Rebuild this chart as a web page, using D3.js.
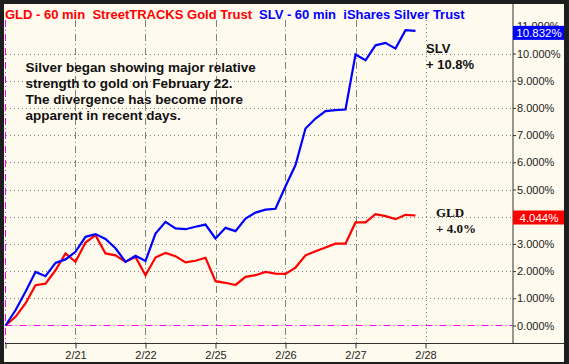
<!DOCTYPE html>
<html><head><meta charset="utf-8">
<script src="https://cdn.jsdelivr.net/npm/d3@7"></script>
<style>body{margin:0;background:#1e1e1e}svg{display:block}</style>
</head><body>
<svg id="c" width="569" height="364"></svg>
<script>
// ---- data ----
const dayLabels = ["2/21","2/22","2/25","2/26","2/27","2/28"];
const gld = [0,0.32,0.81,1.48,1.54,2.03,2.65,
             2.34,3.05,3.32,2.65,2.58,2.34,2.52,
             1.85,2.50,2.67,2.55,2.32,2.38,2.49,
             1.63,1.57,1.49,1.79,1.85,1.97,1.91,
             1.90,2.13,2.58,2.73,2.87,3.01,3.01,
             3.79,3.79,4.09,4.02,3.91,4.07,4.044];
const slv = [0,0.56,1.24,1.97,1.81,2.30,2.43,
             2.71,3.26,3.36,3.18,2.84,2.34,2.56,
             2.37,3.38,3.81,3.57,3.54,3.63,3.71,
             3.20,3.59,3.47,3.93,4.15,4.26,4.29,
             5.12,5.90,7.24,7.61,7.88,7.92,7.94,
             9.96,9.75,10.30,10.39,10.18,10.86,10.832];
const yTicks = [0,1,2,3,4,5,6,7,8,9,10,11];
const barsPerDay = 7;

const svg = d3.select("#c");
const cream = "#fffaee";
svg.append("rect").attr("width",569).attr("height",364).attr("fill","#1e1e1e");
svg.append("rect").attr("x",4).attr("y",4).attr("width",560).attr("height",358).attr("fill",cream);

const x = d3.scaleLinear().domain([0, 42]).range([5.5, 425.5]);
const y = d3.scaleLinear().domain([0, 10]).range([325.5, 53.5]);
const plotRight = 512.5, plotBottom = 343.5, gridTop = 20;

// horizontal dotted grid
svg.append("g").selectAll("line").data(yTicks.filter(d => d > 0 && d < 11)).join("line")
  .attr("x1", 6).attr("x2", plotRight).attr("y1", d => Math.round(y(d))+0.5).attr("y2", d => Math.round(y(d))+0.5)
  .attr("stroke", "#808080").attr("stroke-width",1).attr("stroke-dasharray","1,3");

// vertical day grid
const dayIdx = dayLabels.map((d,i) => (i+1)*barsPerDay);
svg.append("g").selectAll("line").data(dayIdx).join("line")
  .attr("x1", d => Math.round(x(d))+0.5).attr("x2", d => Math.round(x(d))+0.5)
  .attr("y1", gridTop).attr("y2", plotBottom)
  .attr("stroke", "#808080").attr("stroke-width",1)
  .attr("stroke-dasharray", (d,i) => i === dayIdx.length-1 ? "1,3" : "7,3,1,3");

// zero line + start line (magenta)
svg.append("line").attr("x1",5.5).attr("x2",plotRight).attr("y1",y(0)).attr("y2",y(0))
  .attr("stroke","#ff00ff").attr("stroke-width",1).attr("stroke-dasharray","7,3,1,3");
svg.append("line").attr("x1",5.5).attr("x2",5.5).attr("y1",gridTop).attr("y2",plotBottom)
  .attr("stroke","#ff00ff").attr("stroke-width",1).attr("stroke-dasharray","7,3,1,3");

// series lines
const line = d3.line().x((d,i) => x(i)).y(d => y(d));
svg.append("path").datum(gld).attr("d", line).attr("fill","none")
  .attr("stroke","#ff0000").attr("stroke-width",2.2);
svg.append("path").datum(slv).attr("d", line).attr("fill","none")
  .attr("stroke","#0000ff").attr("stroke-width",2.2);

// bottom axis
const xAxis = d3.axisBottom(x).tickValues([0, ...dayIdx])
  .tickFormat(d => d === 0 ? "" : dayLabels[d/barsPerDay - 1]).tickSize(5).tickPadding(3);
const gx = svg.append("g").attr("transform", `translate(0,${plotBottom})`).call(xAxis);
gx.select(".domain").remove();
gx.selectAll(".tick line").attr("stroke","#333");
gx.selectAll(".tick text").attr("font-family","Arial, 'Liberation Sans', sans-serif")
  .attr("font-size","11px").attr("fill","#222");
svg.append("line").attr("x1",5).attr("x2",564).attr("y1",plotBottom).attr("y2",plotBottom)
  .attr("stroke","#333").attr("stroke-width",1);

// right axis
svg.append("line").attr("x1",plotRight+0.5).attr("x2",plotRight+0.5).attr("y1",4).attr("y2",plotBottom)
  .attr("stroke","#333").attr("stroke-width",1);
const yAxis = d3.axisRight(y).tickValues(yTicks).tickFormat(d => d3.format(".3f")(d) + "%")
  .tickSize(3).tickPadding(1);
const gy = svg.append("g").attr("transform", `translate(${plotRight+0.5},0)`).call(yAxis);
gy.select(".domain").remove();
gy.selectAll(".tick line").attr("stroke","#333");
gy.selectAll(".tick text").attr("font-family","Arial, 'Liberation Sans', sans-serif")
  .attr("font-size","11px").attr("fill","#222");

// last value badges
function badge(v, col) {
  const yy = y(v);
  svg.append("rect").attr("x",513).attr("y",yy-5).attr("width",51).attr("height",14).attr("fill",col);
  svg.append("text").attr("x",539).attr("y",yy+6.5).attr("text-anchor","middle")
    .attr("font-family","Arial, 'Liberation Sans', sans-serif").attr("font-size","11.5px")
    .attr("fill","#fff").text(d3.format(".3f")(v) + "%");
}
badge(slv[slv.length-1], "#0000ff");
badge(gld[gld.length-1], "#ff0000");

// titles
const bold = "Arial, 'Liberation Sans', sans-serif";
svg.append("text").attr("x",5).attr("y",19).attr("font-family",bold).attr("font-weight","bold")
  .attr("font-size","13px").attr("fill","#ff0000").attr("xml:space","preserve")
  .style("white-space","pre").text("GLD - 60 min  StreetTRACKS Gold Trust");
svg.append("text").attr("x",259).attr("y",19).attr("font-family",bold).attr("font-weight","bold")
  .attr("font-size","13px").attr("fill","#0000ff")
  .style("white-space","pre").text("SLV - 60 min  iShares Silver Trust");

// annotation
const note = ["Silver began showing major relative","strength to gold on February 22.",
              "The divergence has become more","apparent in recent days."];
svg.append("g").selectAll("text").data(note).join("text")
  .attr("x",25.5).attr("y",(d,i) => 72.3 + i*16)
  .attr("font-family",bold).attr("font-weight","bold").attr("font-size","13.5px").attr("fill","#111")
  .text(d => d);

// series labels
svg.append("text").attr("x",426).attr("y",53.3).attr("font-family",bold).attr("font-weight","bold")
  .attr("font-size","13px").attr("fill","#111").text("SLV");
svg.append("text").attr("x",426).attr("y",68.5).attr("font-family",bold).attr("font-weight","bold")
  .attr("font-size","13px").attr("fill","#111").text("+ " + d3.format(".1f")(slv[slv.length-1]) + "%");
const serif = "'Times New Roman', 'Liberation Serif', serif";
svg.append("text").attr("x",436).attr("y",216.7).attr("font-family",serif).attr("font-weight","bold")
  .attr("font-size","13px").attr("fill","#111").text("GLD");
svg.append("text").attr("x",436).attr("y",233.3).attr("font-family",serif).attr("font-weight","bold")
  .attr("font-size","13px").attr("fill","#111").text("+ " + d3.format(".1f")(gld[gld.length-1]) + "%");
</script>
</body></html>
